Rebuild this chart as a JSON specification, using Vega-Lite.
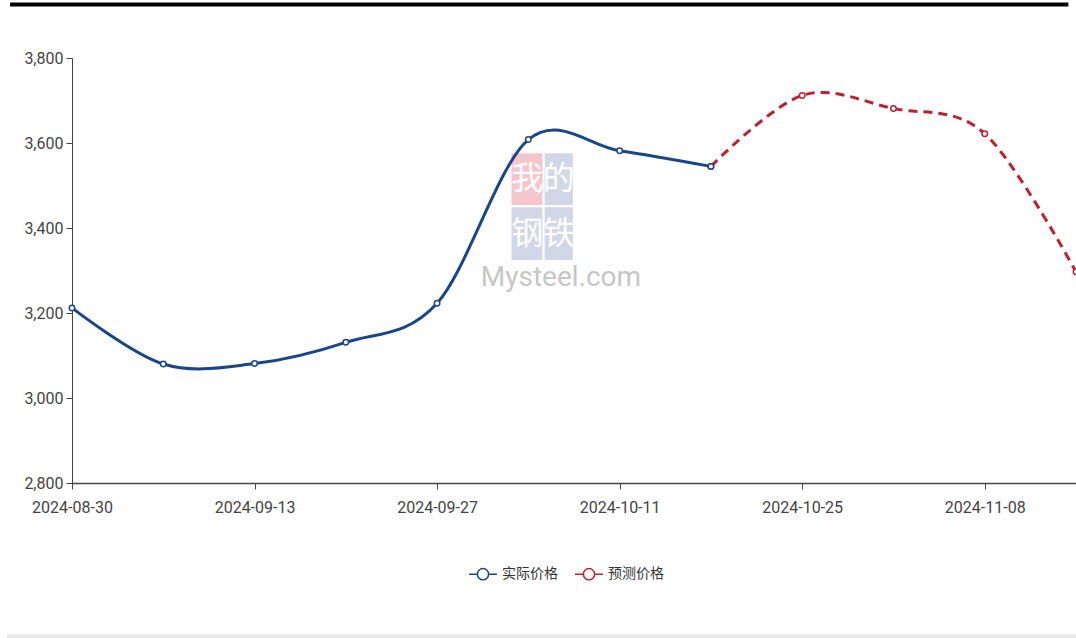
{
  "$schema": "https://vega.github.io/schema/vega-lite/v6.json",
  "width": 1004,
  "height": 425,
  "autosize": {"type": "none"},
  "padding": {"left": 72, "top": 58, "right": 0, "bottom": 155},
  "background": "white",
  "config": {
    "view": {"stroke": null},
    "font": "Roboto, sans-serif"
  },
  "datasets": {
    "actual": [
      {"date": "2024-08-30", "price": 3212, "series": "实际价格"},
      {"date": "2024-09-06", "price": 3080, "series": "实际价格"},
      {"date": "2024-09-13", "price": 3081, "series": "实际价格"},
      {"date": "2024-09-20", "price": 3131, "series": "实际价格"},
      {"date": "2024-09-27", "price": 3223, "series": "实际价格"},
      {"date": "2024-10-04", "price": 3608, "series": "实际价格"},
      {"date": "2024-10-11", "price": 3582, "series": "实际价格"},
      {"date": "2024-10-18", "price": 3545, "series": "实际价格"}
    ],
    "forecast": [
      {"date": "2024-10-18", "price": 3545, "series": "预测价格"},
      {"date": "2024-10-25", "price": 3712, "series": "预测价格"},
      {"date": "2024-11-01", "price": 3681, "series": "预测价格"},
      {"date": "2024-11-08", "price": 3622, "series": "预测价格"},
      {"date": "2024-11-15", "price": 3297, "series": "预测价格"}
    ],
    "deco": [
      {"item": "topbar", "d1": "2024-08-25T06:00:00Z", "d2": "2024-11-14T10:00:00Z", "v": 3926},
      {"item": "bottombar", "d1": "2024-08-25T00:00:00Z", "d2": "2024-11-15T12:00:00Z", "v": 2437}
    ]
  },
  "layer": [
    {
      "data": {"name": "deco"},
      "transform": [{"filter": "datum.item === 'topbar'"}],
      "mark": {"type": "rule", "color": "#000000", "strokeWidth": 4},
      "encoding": {
        "x": {
          "field": "d1",
          "type": "temporal",
          "scale": {"domain": [
            {"year": 2024, "month": 8, "date": 30, "utc": true},
            {"year": 2024, "month": 11, "date": 15, "utc": true}
          ]},
          "axis": {
            "title": null,
            "labelExpr": "utcFormat(datum.value, '%Y-%m-%d')",
            "values": [
              {"year": 2024, "month": 8, "date": 30, "utc": true},
              {"year": 2024, "month": 9, "date": 13, "utc": true},
              {"year": 2024, "month": 9, "date": 27, "utc": true},
              {"year": 2024, "month": 10, "date": 11, "utc": true},
              {"year": 2024, "month": 10, "date": 25, "utc": true},
              {"year": 2024, "month": 11, "date": 8, "utc": true}
            ],
            "grid": false,
            "domainColor": "#444444",
            "domainWidth": 1.5,
            "tickColor": "#444444",
            "tickSize": 6,
            "labelColor": "#444444",
            "labelFontSize": 16,
            "labelPadding": 10,
            "labelFlush": false,
            "labelOverlap": false
          }
        },
        "x2": {"field": "d2"},
        "y": {
          "field": "v",
          "type": "quantitative",
          "scale": {"domain": [2800, 3800], "nice": false, "zero": false},
          "axis": {
            "title": null,
            "values": [2800, 3000, 3200, 3400, 3600, 3800],
            "format": ",d",
            "grid": false,
            "domainColor": "#444444",
            "domainWidth": 1,
            "tickColor": "#444444",
            "tickSize": 6,
            "labelColor": "#444444",
            "labelFontSize": 16,
            "labelPadding": 3
          }
        }
      }
    },
    {
      "data": {"name": "deco"},
      "transform": [{"filter": "datum.item === 'bottombar'"}],
      "mark": {"type": "rule", "color": "#e8e8e8", "strokeWidth": 6},
      "encoding": {
        "x": {"field": "d1", "type": "temporal"},
        "x2": {"field": "d2"},
        "y": {"field": "v", "type": "quantitative"}
      }
    },
    {
      "data": {"name": "deco"},
      "transform": [{"filter": "datum.item === 'topbar'"}],
      "mark": {"type": "rect", "color": "#f2bcc3", "opacity": 0.85},
      "encoding": {
        "x": {"datum": {"year": 2024, "month": 10, "date": 2, "hours": 17, "utc": true}, "type": "temporal"},
        "x2": {"datum": {"year": 2024, "month": 10, "date": 5, "hours": 2, "utc": true}},
        "y": {"datum": 3576, "type": "quantitative"},
        "y2": {"datum": 3454}
      }
    },
    {
      "data": {"name": "deco"},
      "transform": [{"filter": "datum.item === 'topbar'"}],
      "mark": {"type": "rect", "color": "#c9d0e2", "opacity": 0.85},
      "encoding": {
        "x": {"datum": {"year": 2024, "month": 10, "date": 5, "hours": 6, "utc": true}, "type": "temporal"},
        "x2": {"datum": {"year": 2024, "month": 10, "date": 7, "hours": 10, "utc": true}},
        "y": {"datum": 3576, "type": "quantitative"},
        "y2": {"datum": 3454}
      }
    },
    {
      "data": {"name": "deco"},
      "transform": [{"filter": "datum.item === 'topbar'"}],
      "mark": {"type": "rect", "color": "#c9d0e2", "opacity": 0.85},
      "encoding": {
        "x": {"datum": {"year": 2024, "month": 10, "date": 2, "hours": 17, "utc": true}, "type": "temporal"},
        "x2": {"datum": {"year": 2024, "month": 10, "date": 5, "hours": 2, "utc": true}},
        "y": {"datum": 3449, "type": "quantitative"},
        "y2": {"datum": 3325}
      }
    },
    {
      "data": {"name": "deco"},
      "transform": [{"filter": "datum.item === 'topbar'"}],
      "mark": {"type": "rect", "color": "#c9d0e2", "opacity": 0.85},
      "encoding": {
        "x": {"datum": {"year": 2024, "month": 10, "date": 5, "hours": 6, "utc": true}, "type": "temporal"},
        "x2": {"datum": {"year": 2024, "month": 10, "date": 7, "hours": 10, "utc": true}},
        "y": {"datum": 3449, "type": "quantitative"},
        "y2": {"datum": 3325}
      }
    },
    {
      "data": {"name": "deco"},
      "transform": [{"filter": "datum.item === 'topbar'"}],
      "mark": {"type": "text", "text": "我", "fontSize": 32, "font": "Noto Sans CJK SC", "color": "#ffffff"},
      "encoding": {
        "x": {"datum": {"year": 2024, "month": 10, "date": 3, "hours": 22, "utc": true}, "type": "temporal"},
        "y": {"datum": 3515, "type": "quantitative"}
      }
    },
    {
      "data": {"name": "deco"},
      "transform": [{"filter": "datum.item === 'topbar'"}],
      "mark": {"type": "text", "text": "的", "fontSize": 32, "font": "Noto Sans CJK SC", "color": "#ffffff"},
      "encoding": {
        "x": {"datum": {"year": 2024, "month": 10, "date": 6, "hours": 8, "utc": true}, "type": "temporal"},
        "y": {"datum": 3515, "type": "quantitative"}
      }
    },
    {
      "data": {"name": "deco"},
      "transform": [{"filter": "datum.item === 'topbar'"}],
      "mark": {"type": "text", "text": "钢", "fontSize": 32, "font": "Noto Sans CJK SC", "color": "#ffffff"},
      "encoding": {
        "x": {"datum": {"year": 2024, "month": 10, "date": 3, "hours": 22, "utc": true}, "type": "temporal"},
        "y": {"datum": 3387, "type": "quantitative"}
      }
    },
    {
      "data": {"name": "deco"},
      "transform": [{"filter": "datum.item === 'topbar'"}],
      "mark": {"type": "text", "text": "铁", "fontSize": 32, "font": "Noto Sans CJK SC", "color": "#ffffff"},
      "encoding": {
        "x": {"datum": {"year": 2024, "month": 10, "date": 6, "hours": 8, "utc": true}, "type": "temporal"},
        "y": {"datum": 3387, "type": "quantitative"}
      }
    },
    {
      "data": {"name": "deco"},
      "transform": [{"filter": "datum.item === 'topbar'"}],
      "mark": {"type": "text", "text": "Mysteel.com", "fontSize": 28, "color": "#c6c6c6"},
      "encoding": {
        "x": {"datum": {"year": 2024, "month": 10, "date": 6, "hours": 12, "utc": true}, "type": "temporal"},
        "y": {"datum": 3282, "type": "quantitative"}
      }
    },
    {
      "data": {"name": "forecast"},
      "mark": {"type": "line", "interpolate": "cardinal", "strokeWidth": 3, "strokeDash": [9, 6]},
      "encoding": {
        "x": {"field": "date", "type": "temporal"},
        "y": {"field": "price", "type": "quantitative"},
        "color": {
          "field": "series",
          "type": "nominal",
          "scale": {"domain": ["实际价格", "预测价格"], "range": ["#1b4589", "#c21f2d"]},
          "legend": {
            "title": null,
            "orient": "none",
            "legendX": 396,
            "legendY": 501,
            "direction": "horizontal",
            "symbolType": "M-1,0H-0.4M0.4,0H1M0.4,0A0.4,0.4,0,1,1,-0.4,0A0.4,0.4,0,1,1,0.4,0",
            "symbolSize": 784,
            "symbolFillColor": "white",
            "symbolStrokeWidth": 1.5,
            "labelFontSize": 14,
            "labelColor": "#333333",
            "labelFont": "Noto Sans CJK SC",
            "labelOffset": 4,
            "columnPadding": 14,
            "symbolOffset": 0
          }
        }
      }
    },
    {
      "data": {"name": "forecast"},
      "mark": {"type": "point", "shape": "circle", "filled": true, "fill": "white", "size": 30, "strokeWidth": 1.5, "opacity": 1},
      "encoding": {
        "x": {"field": "date", "type": "temporal"},
        "y": {"field": "price", "type": "quantitative"},
        "stroke": {"field": "series", "type": "nominal", "scale": {"domain": ["实际价格", "预测价格"], "range": ["#1b4589", "#c21f2d"]}, "legend": null}
      }
    },
    {
      "data": {"name": "actual"},
      "mark": {"type": "line", "interpolate": "cardinal", "strokeWidth": 3},
      "encoding": {
        "x": {"field": "date", "type": "temporal"},
        "y": {"field": "price", "type": "quantitative"},
        "color": {"field": "series", "type": "nominal"}
      }
    },
    {
      "data": {"name": "actual"},
      "mark": {"type": "point", "shape": "circle", "filled": true, "fill": "white", "size": 30, "strokeWidth": 1.5, "opacity": 1},
      "encoding": {
        "x": {"field": "date", "type": "temporal"},
        "y": {"field": "price", "type": "quantitative"},
        "stroke": {"field": "series", "type": "nominal", "legend": null}
      }
    }
  ]
}
